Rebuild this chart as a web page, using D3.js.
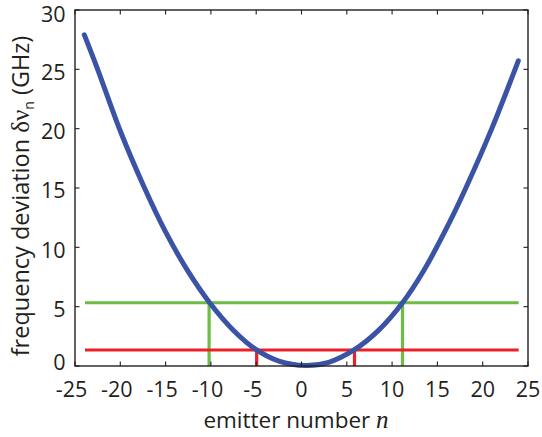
<!DOCTYPE html>
<html>
<head>
<meta charset="utf-8">
<script src="https://cdn.jsdelivr.net/npm/d3@7"></script>
<style>
  html, body { margin: 0; padding: 0; background: #fff; }
  svg { display: block; font-family: "Open Sans", "DejaVu Sans", sans-serif; }
</style>
</head>
<body>
<svg id="chart" width="542" height="437"></svg>
<script>
// Frequency deviation of each emitter versus emitter number
const emitterN = [-23.97, -22.5, -20.0, -17.5, -15.0, -12.5, -10.2, -7.5, -5.0, -2.5, 0.45,
                  3.0, 5.8, 8.5, 11.15, 13.5, 16.4, 18.2, 21.0, 23.93];
const deviationGHz = [27.9, 25.0, 19.8, 15.3, 11.3, 7.95, 5.4, 3.0, 1.38, 0.42, 0.05,
                      0.31, 1.35, 3.0, 5.33, 8.05, 12.2, 15.1, 20.0, 25.72];

// Threshold levels and the emitter numbers where the curve crosses them
const greenLevel = 5.33;
const greenCross = [-10.2, 11.15];
const redLevel = 1.35;
const redCross = [-4.95, 5.85];
const levelSpan = [-23.9, 23.97];

const xTicks = [-25, -20, -15, -10, -5, 0, 5, 10, 15, 20, 25];
const yTicks = [0, 5, 10, 15, 20, 25, 30];

const W = 542, H = 437;
const m = { left: 75, right: 14, top: 10, bottom: 71 };
const svg = d3.select("#chart");

const x = d3.scaleLinear().domain([-25, 25]).range([m.left, W - m.right]);
const y = d3.scaleLinear().domain([0, 30]).range([H - m.bottom, m.top]);

const axisColor = "#231f20";
const blue = "#3a53a4", green = "#6cbd45", red = "#ec2127";

// horizontal threshold lines with drop lines at the crossings
function levelLines(level, cross, color) {
  svg.append("line")
    .attr("x1", x(levelSpan[0])).attr("x2", x(levelSpan[1]))
    .attr("y1", y(level)).attr("y2", y(level))
    .attr("stroke", color).attr("stroke-width", 3.2);
  cross.forEach(c => {
    svg.append("line")
      .attr("x1", x(c)).attr("x2", x(c))
      .attr("y1", y(0)).attr("y2", y(level))
      .attr("stroke", color).attr("stroke-width", 3.2);
  });
}
levelLines(greenLevel, greenCross, green);
levelLines(redLevel, redCross, red);

// deviation curve
const pts = emitterN.map((n, i) => [n, deviationGHz[i]]);
svg.append("path")
  .datum(pts)
  .attr("d", d3.line().x(d => x(d[0])).y(d => y(d[1])).curve(d3.curveCatmullRom.alpha(0.5)))
  .attr("fill", "none")
  .attr("stroke", blue)
  .attr("stroke-width", 5)
  .attr("stroke-linecap", "round");

// frame with inward ticks on all four sides
const tickLen = 4.5;
const frame = svg.append("g").attr("stroke", axisColor).attr("fill", "none");
frame.append("rect")
  .attr("x", x(-25)).attr("y", y(30))
  .attr("width", x(25) - x(-25)).attr("height", y(0) - y(30))
  .attr("stroke-width", 1.4);
xTicks.forEach(t => {
  frame.append("line").attr("x1", x(t)).attr("x2", x(t))
    .attr("y1", y(0)).attr("y2", y(0) - tickLen).attr("stroke-width", 1.1);
  frame.append("line").attr("x1", x(t)).attr("x2", x(t))
    .attr("y1", y(30)).attr("y2", y(30) + tickLen).attr("stroke-width", 1.1);
});
yTicks.forEach(t => {
  frame.append("line").attr("x1", x(-25)).attr("x2", x(-25) + tickLen)
    .attr("y1", y(t)).attr("y2", y(t)).attr("stroke-width", 1.1);
  frame.append("line").attr("x1", x(25)).attr("x2", x(25) - tickLen)
    .attr("y1", y(t)).attr("y2", y(t)).attr("stroke-width", 1.1);
});

// x tick labels: digits centred on the tick, minus sign hanging to the left
const fs = 21.5;
xTicks.forEach(t => {
  const label = String(t);
  const txt = svg.append("text")
    .attr("y", y(0) + 31)
    .attr("font-size", fs)
    .attr("fill", axisColor)
    .text(label);
  const full = txt.node().getComputedTextLength();
  const digits = label.replace("-", "");
  const tmp = svg.append("text").attr("font-size", fs).text(digits);
  const dw = tmp.node().getComputedTextLength();
  tmp.remove();
  txt.attr("x", x(t) + dw / 2 - full);
});

// y tick labels, kept inside the frame's vertical extent
yTicks.forEach(t => {
  const cy = Math.max(Math.min(y(t) + 2.5, y(0) - 3.5), y(30) + 4.5);
  svg.append("text")
    .attr("x", x(-25) - 9.5)
    .attr("y", cy)
    .attr("dy", "0.36em")
    .attr("text-anchor", "end")
    .attr("font-size", fs)
    .attr("fill", axisColor)
    .text(t);
});

// x axis title
const xt = svg.append("text")
  .attr("x", 296)
  .attr("y", 428)
  .attr("text-anchor", "middle")
  .attr("font-size", 22.5)
  .attr("fill", axisColor);
xt.append("tspan").text("emitter number ");
xt.append("tspan").attr("font-family", "'Liberation Serif', 'DejaVu Serif', serif")
  .attr("font-style", "italic").attr("font-size", 25).text("n");

// y axis title
const yt = svg.append("text")
  .attr("transform", "translate(29,196) rotate(-90)")
  .attr("text-anchor", "middle")
  .attr("font-size", 23.5)
  .attr("fill", axisColor);
yt.append("tspan").text("frequency deviation ");
yt.append("tspan").attr("font-family", "'Liberation Serif', 'DejaVu Serif', serif")
  .attr("font-size", 25).text("δν");
yt.append("tspan").attr("font-size", 14).attr("dy", 5).text("n");
yt.append("tspan").attr("dy", -5).text(" (GHz)");
</script>
</body>
</html>
